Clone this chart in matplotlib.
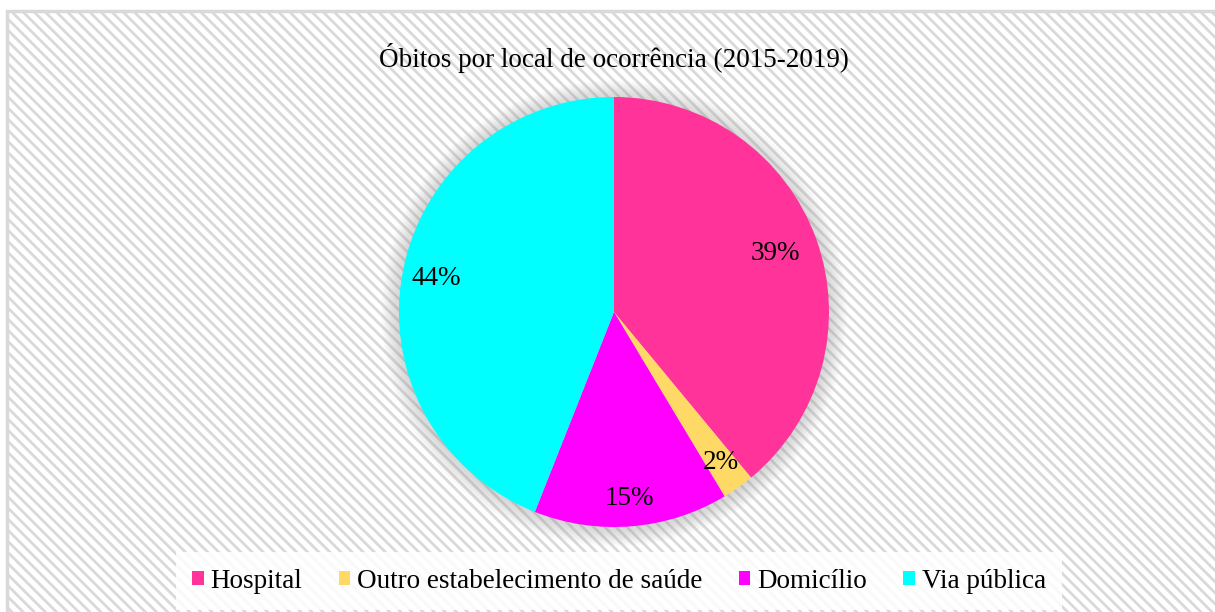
import matplotlib
matplotlib.use("Agg")
import matplotlib.pyplot as plt
import numpy as np
from matplotlib.patches import Rectangle, Circle

categories = ["Hospital", "Outro estabelecimento de saúde", "Domicílio", "Via pública"]
values = [39.0, 2.4, 14.6, 44.0]
colors = ["#FF3399", "#FFD966", "#FF00FF", "#00FFFF"]
title = "Óbitos por local de ocorrência (2015-2019)"
label_dist = [0.80, 0.86, 0.87, 0.84]

plt.rcParams['font.family'] = ['Liberation Serif', 'DejaVu Serif']
plt.rcParams['hatch.color'] = '#F6F6F6'
plt.rcParams['hatch.linewidth'] = 2.0

FS = 19.5
W, H = 1215, 612
fig = plt.figure(figsize=(W / 100, H / 100), dpi=100)
fig.patch.set_facecolor('white')

# chart area frame with diagonal pattern
frame = Rectangle((7 / W, -0.05), 1.05, 1.05 - 11 / H, transform=fig.transFigure,
                  facecolor='white', edgecolor='#D9D9D9', linewidth=2.5,
                  hatch='\\\\\\', zorder=-5)
fig.patches.append(frame)

cx, cy, r = 614, 312, 215
lim = 1.25
size = 2 * lim * r
ax = fig.add_axes([(cx - size / 2) / W, (H - cy - size / 2) / H, size / W, size / H])
ax.set_zorder(2)
ax.axis('off')
ax.patch.set_alpha(0)

# soft shadow
for k in range(14):
    ax.add_patch(Circle((0, -0.006), 1.0 + 0.006 * (k + 1), facecolor='#A0A0A0',
                        edgecolor='none', alpha=0.03, zorder=0))

wedges, texts, autotexts = ax.pie(values, colors=colors, startangle=90, counterclock=False,
                                  radius=1.0, autopct='%.0f%%', pctdistance=1.0,
                                  wedgeprops=dict(linewidth=0), textprops=dict(fontsize=FS, color='black'))
for w in wedges:
    w.set_zorder(2)
for t, d in zip(autotexts, label_dist):
    x, y = t.get_position()
    t.set_position((x * d, y * d))
    t.set_zorder(3)
ax.set_xlim(-lim, lim)
ax.set_ylim(-lim, lim)

fig.text(cx / W, 1 - 58 / H, title, ha='center', va='center', fontsize=FS, zorder=3)

leg = fig.legend(wedges, categories, loc='center', bbox_to_anchor=(619 / W, 1 - 581 / H),
                 ncol=4, fontsize=FS, frameon=True, fancybox=False,
                 handlelength=0.42, handleheight=0.42, handletextpad=0.25,
                 columnspacing=1.35, borderpad=0.6)
leg.set_zorder(3)
leg.get_frame().set_facecolor('white')
leg.get_frame().set_alpha(0.85)
leg.get_frame().set_edgecolor('none')

fig.savefig('out.png', dpi=100)
